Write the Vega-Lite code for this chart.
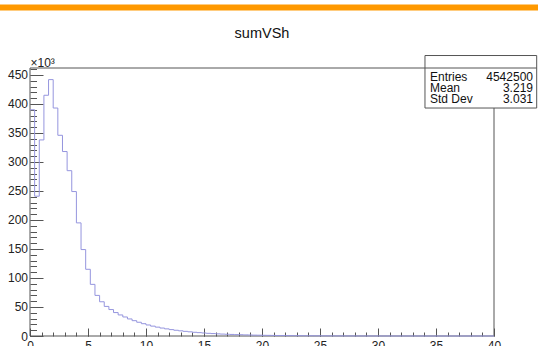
{
  "$schema": "https://vega.github.io/schema/vega-lite/v6.json",
  "width": 464,
  "height": 268,
  "autosize": "none",
  "padding": {"left": 30, "top": 68, "right": 44, "bottom": 10},
  "background": "white",
  "title": {
    "text": "sumVSh",
    "font": "Liberation Sans",
    "fontSize": 14.5,
    "fontWeight": "normal",
    "color": "#111",
    "anchor": "middle",
    "frame": "group",
    "baseline": "alphabetic",
    "offset": -48
  },
  "config": {
    "view": {"stroke": null},
    "axis": {
      "domain": false,
      "grid": false,
      "labelFont": "Liberation Sans",
      "labelFontSize": 12,
      "labelColor": "#222",
      "tickColor": "#555",
      "tickWidth": 1,
      "titleFont": "Liberation Sans",
      "labelFlush": false,
      "labelOverlap": false,
      "labelBound": false
    },
    "text": {"font": "Liberation Sans"}
  },
  "datasets": {
    "hist": [
      {"x": 0.0, "n": 390}, {"x": 0.4, "n": 241}, {"x": 0.8, "n": 338}, {"x": 1.2, "n": 415},
      {"x": 1.6, "n": 442}, {"x": 2.0, "n": 393}, {"x": 2.4, "n": 346}, {"x": 2.8, "n": 318},
      {"x": 3.2, "n": 285}, {"x": 3.6, "n": 249}, {"x": 4.0, "n": 195}, {"x": 4.4, "n": 149},
      {"x": 4.8, "n": 115}, {"x": 5.2, "n": 89}, {"x": 5.6, "n": 70}, {"x": 6.0, "n": 59},
      {"x": 6.4, "n": 51}, {"x": 6.8, "n": 45.6}, {"x": 7.2, "n": 40.4}, {"x": 7.6, "n": 36.3},
      {"x": 8.0, "n": 32.8}, {"x": 8.4, "n": 29.4}, {"x": 8.8, "n": 26.4}, {"x": 9.2, "n": 23.7},
      {"x": 9.6, "n": 21.2}, {"x": 10.0, "n": 19.0}, {"x": 10.4, "n": 17.0}, {"x": 10.8, "n": 15.3},
      {"x": 11.2, "n": 13.7}, {"x": 11.6, "n": 12.3}, {"x": 12.0, "n": 11.0}, {"x": 12.4, "n": 9.9},
      {"x": 12.8, "n": 8.9}, {"x": 13.2, "n": 8.0}, {"x": 13.6, "n": 7.2}, {"x": 14.0, "n": 6.4},
      {"x": 14.4, "n": 5.8}, {"x": 14.8, "n": 5.2}, {"x": 15.2, "n": 4.6}, {"x": 15.6, "n": 4.2},
      {"x": 16.0, "n": 3.7}, {"x": 16.4, "n": 3.3}, {"x": 16.8, "n": 3.0}, {"x": 17.2, "n": 2.7},
      {"x": 17.6, "n": 2.4}, {"x": 18.0, "n": 2.2}, {"x": 18.4, "n": 1.9}, {"x": 18.8, "n": 1.7},
      {"x": 19.2, "n": 1.5}, {"x": 19.6, "n": 1.4}, {"x": 20.0, "n": 1.2}, {"x": 20.4, "n": 1.1},
      {"x": 20.8, "n": 0.98}, {"x": 21.2, "n": 0.88}, {"x": 21.6, "n": 0.79}, {"x": 22.0, "n": 0.7},
      {"x": 22.4, "n": 0.63}, {"x": 22.8, "n": 0.56}, {"x": 23.2, "n": 0.5}, {"x": 23.6, "n": 0.45},
      {"x": 24.0, "n": 0.4}, {"x": 24.4, "n": 0.36}, {"x": 24.8, "n": 0.32}, {"x": 25.2, "n": 0.28},
      {"x": 25.6, "n": 0.25}, {"x": 26.0, "n": 0.22}, {"x": 26.4, "n": 0.2}, {"x": 26.8, "n": 0.18},
      {"x": 27.2, "n": 0.16}, {"x": 27.6, "n": 0.14}, {"x": 28.0, "n": 0.12}, {"x": 28.4, "n": 0.11},
      {"x": 28.8, "n": 0.1}, {"x": 29.2, "n": 0.09}, {"x": 29.6, "n": 0.08}, {"x": 30.0, "n": 0.07},
      {"x": 30.4, "n": 0.06}, {"x": 30.8, "n": 0.055}, {"x": 31.2, "n": 0.05}, {"x": 31.6, "n": 0.045},
      {"x": 32.0, "n": 0.04}, {"x": 32.4, "n": 0.035}, {"x": 32.8, "n": 0.03}, {"x": 33.2, "n": 0.027},
      {"x": 33.6, "n": 0.024}, {"x": 34.0, "n": 0.021}, {"x": 34.4, "n": 0.019}, {"x": 34.8, "n": 0.017},
      {"x": 35.2, "n": 0.015}, {"x": 35.6, "n": 0.013}, {"x": 36.0, "n": 0.012}, {"x": 36.4, "n": 0.01},
      {"x": 36.8, "n": 0.009}, {"x": 37.2, "n": 0.008}, {"x": 37.6, "n": 0.007}, {"x": 38.0, "n": 0.006},
      {"x": 38.4, "n": 0.005}, {"x": 38.8, "n": 0.005}, {"x": 39.2, "n": 0.004}, {"x": 39.6, "n": 0.004},
      {"x": 40.0, "n": 0.004}
    ],
    "stats": [
      {"stat": "Entries", "value": "4542500"},
      {"stat": "Mean", "value": "3.219"},
      {"stat": "Std Dev", "value": "3.031"}
    ]
  },
  "layer": [
    {
      "layer": [
        {
          "description": "orange band across the top of the canvas",
          "data": {"values": [{}]},
          "mark": {"type": "rect", "color": "#ff9900"},
          "encoding": {
            "x": {"datum": -2.6, "type": "quantitative", "scale": {"domain": [0, 40], "nice": false, "zero": false}, "axis": null},
            "x2": {"datum": 43.8},
            "y": {"datum": 571.5, "type": "quantitative", "scale": {"domain": [0, 462], "nice": false, "zero": false}, "axis": null},
            "y2": {"datum": 561.1}
          }
        },
        {
          "description": "plot frame",
          "data": {"values": [{}]},
          "mark": {"type": "rect", "fill": null, "stroke": "#555", "strokeWidth": 1},
          "encoding": {
            "x": {"datum": 0, "type": "quantitative", "scale": {"domain": [0, 40], "nice": false, "zero": false}, "axis": null},
            "x2": {"datum": 40},
            "y": {"datum": 0, "type": "quantitative", "scale": {"domain": [0, 462], "nice": false, "zero": false}, "axis": null},
            "y2": {"datum": 462}
          }
        },
        {
          "description": "histogram outline with the major ticks and labels",
          "data": {"name": "hist"},
          "mark": {"type": "line", "interpolate": "step-after", "color": "#9595de", "strokeWidth": 1},
          "encoding": {
            "x": {
              "field": "x", "type": "quantitative",
              "scale": {"domain": [0, 40], "nice": false, "zero": false},
              "axis": {
                "orient": "bottom", "title": null,
                "values": [0, 5, 10, 15, 20, 25, 30, 35, 40],
                "tickSize": -8, "labelPadding": 12, "labelBaseline": "top"
              }
            },
            "y": {
              "field": "n", "type": "quantitative",
              "scale": {"domain": [0, 462], "nice": false, "zero": false},
              "axis": {
                "orient": "left",
                "values": [0, 50, 100, 150, 200, 250, 300, 350, 400, 450],
                "tickSize": -13, "labelPadding": 15.5, "labelBaseline": "middle",
                "title": "×10³", "titleAngle": 0, "titleX": 0, "titleY": -2,
                "titleAlign": "left", "titleBaseline": "alphabetic",
                "titleFontSize": 12, "titleFontWeight": "normal", "titleColor": "#222"
              }
            }
          }
        },
        {
          "description": "invisible copy carrying the minor ticks",
          "data": {"name": "hist"},
          "mark": {"type": "line", "opacity": 0},
          "encoding": {
            "x": {
              "field": "x", "type": "quantitative",
              "scale": {"domain": [0, 40], "nice": false, "zero": false},
              "axis": {
                "orient": "bottom", "title": null, "labels": false,
                "values": [0,1,2,3,4,5,6,7,8,9,10,11,12,13,14,15,16,17,18,19,20,21,22,23,24,25,26,27,28,29,30,31,32,33,34,35,36,37,38,39,40],
                "tickSize": -4
              }
            },
            "y": {
              "field": "n", "type": "quantitative",
              "scale": {"domain": [0, 462], "nice": false, "zero": false},
              "axis": {
                "orient": "left", "title": null, "labels": false,
                "values": [0,10,20,30,40,50,60,70,80,90,100,110,120,130,140,150,160,170,180,190,200,210,220,230,240,250,260,270,280,290,300,310,320,330,340,350,360,370,380,390,400,410,420,430,440,450,460],
                "tickSize": -6.5
              }
            }
          }
        },
        {
          "description": "white body of the statistics box, drawn as a thick rule",
          "data": {"values": [{}]},
          "mark": {"type": "rule", "color": "white", "strokeWidth": 52.5, "strokeCap": "butt"},
          "encoding": {
            "x": {"datum": 34.05, "type": "quantitative", "scale": {"domain": [0, 40], "nice": false, "zero": false}, "axis": null},
            "x2": {"datum": 43.68},
            "y": {"datum": 438.3, "type": "quantitative", "scale": {"domain": [0, 462], "nice": false, "zero": false}, "axis": null}
          }
        },
        {
          "description": "horizontal borders of the statistics box: top, header divider, bottom",
          "data": {"values": [{"edge": 483.5}, {"edge": 462}, {"edge": 393.0}]},
          "mark": {"type": "rule", "color": "#555", "strokeWidth": 1},
          "encoding": {
            "x": {"datum": 34.05, "type": "quantitative", "scale": {"domain": [0, 40], "nice": false, "zero": false}, "axis": null},
            "x2": {"datum": 43.68},
            "y": {"field": "edge", "type": "quantitative", "scale": {"domain": [0, 462], "nice": false, "zero": false}, "axis": null}
          }
        },
        {
          "description": "vertical borders of the statistics box",
          "data": {"values": [{"edge": 34.05}, {"edge": 43.68}]},
          "mark": {"type": "rule", "color": "#555", "strokeWidth": 1},
          "encoding": {
            "x": {"field": "edge", "type": "quantitative", "scale": {"domain": [0, 40], "nice": false, "zero": false}, "axis": null},
            "y": {"datum": 483.5, "type": "quantitative", "scale": {"domain": [0, 462], "nice": false, "zero": false}, "axis": null},
            "y2": {"datum": 393.0}
          }
        }
      ],
      "resolve": {"axis": {"x": "independent", "y": "independent"}}
    },
    {
      "data": {"name": "stats"},
      "mark": {"type": "text", "align": "left", "baseline": "middle", "fontSize": 12, "color": "#111"},
      "encoding": {
        "x": {"datum": 34.48, "type": "quantitative", "scale": {"domain": [0, 40], "nice": false, "zero": false}, "axis": null},
        "y": {
          "field": "stat", "type": "nominal", "sort": null,
          "scale": {"type": "point", "domain": ["Entries", "Mean", "Std Dev"], "range": [8.7, 31.3], "padding": 0},
          "axis": null
        },
        "text": {"field": "stat"}
      }
    },
    {
      "data": {"name": "stats"},
      "mark": {"type": "text", "align": "right", "baseline": "middle", "fontSize": 12, "color": "#111"},
      "encoding": {
        "x": {"datum": 43.36, "type": "quantitative", "scale": {"domain": [0, 40], "nice": false, "zero": false}, "axis": null},
        "y": {
          "field": "stat", "type": "nominal", "sort": null,
          "scale": {"type": "point", "domain": ["Entries", "Mean", "Std Dev"], "range": [8.7, 31.3], "padding": 0},
          "axis": null
        },
        "text": {"field": "value"}
      }
    }
  ],
  "resolve": {"scale": {"y": "independent"}, "axis": {"x": "independent", "y": "independent"}}
}
